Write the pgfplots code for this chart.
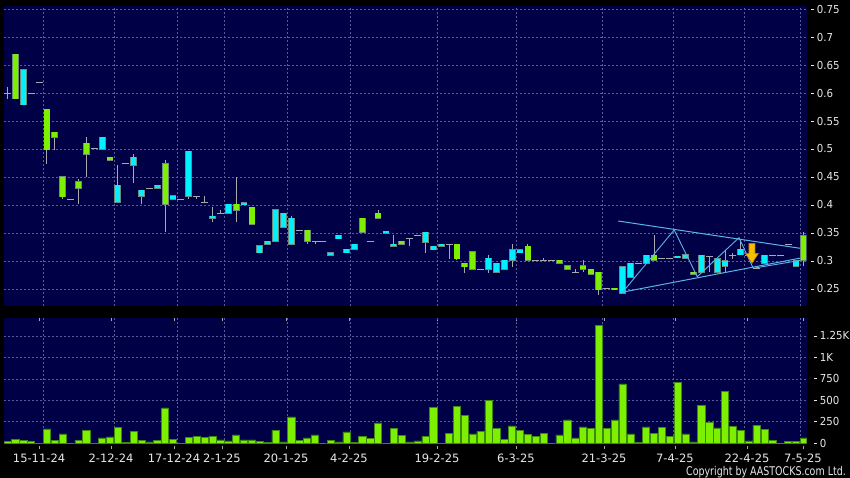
\documentclass[border=0pt]{standalone}
\usepackage{fontspec}
\setmainfont{DejaVu Sans}
\usepackage{pgfplots}
\pgfplotsset{compat=1.18}
\usepackage{pgfplotstable}

\definecolor{bgnavy}{HTML}{000046}
\definecolor{gridc}{HTML}{5A5A96}
\definecolor{upg}{HTML}{7CF000}
\definecolor{dnc}{HTML}{00F0FF}
\definecolor{edgec}{HTML}{6E8A7A}
\definecolor{wickc}{HTML}{A8A8B0}
\definecolor{trendc}{HTML}{5AB4E6}
\definecolor{voledge}{HTML}{3E8A10}
\definecolor{txtc}{HTML}{E8E8E8}
\definecolor{arrowc}{HTML}{F5C000}
\definecolor{arrowe}{HTML}{C07800}

\newcommand\yt[1]{\rule[0.33em]{3pt}{0.8pt}\hspace{3pt}\scalebox{0.93}[1]{#1}}

\pgfdeclareplotmark{sigarrow}{%
  \pgfpathmoveto{\pgfpoint{-3pt}{10pt}}%
  \pgfpathlineto{\pgfpoint{3pt}{10pt}}%
  \pgfpathlineto{\pgfpoint{3pt}{0pt}}%
  \pgfpathlineto{\pgfpoint{6.5pt}{0pt}}%
  \pgfpathlineto{\pgfpoint{0pt}{-10pt}}%
  \pgfpathlineto{\pgfpoint{-6.5pt}{0pt}}%
  \pgfpathlineto{\pgfpoint{-3pt}{0pt}}%
  \pgfpathclose
  \pgfusepathqfillstroke}

% body low / high of up (green) candles
\pgfplotstableread{
x lo hi
1 0.590 0.669
5 0.499 0.571
6 0.521 0.530
7 0.415 0.450
9 0.430 0.441
10 0.491 0.510
13 0.480 0.485
20 0.401 0.474
29 0.391 0.401
31 0.366 0.396
38 0.335 0.355
45 0.351 0.376
47 0.376 0.385
50 0.330 0.335
57 0.304 0.330
58 0.290 0.296
59 0.285 0.316
66 0.301 0.326
70 0.296 0.301
71 0.285 0.291
73 0.285 0.291
74 0.276 0.285
75 0.249 0.280
77 0.249 0.251
82 0.301 0.310
87 0.277 0.280
101 0.302 0.345
}\upc

% body low / high of cyan candles
\pgfplotstableread{
x lo hi
2 0.579 0.641
12 0.500 0.521
14 0.405 0.435
16 0.471 0.485
17 0.416 0.426
19 0.430 0.435
21 0.410 0.416
23 0.416 0.496
26 0.376 0.380
28 0.385 0.401
30 0.401 0.404
32 0.315 0.327
33 0.330 0.335
34 0.335 0.391
35 0.360 0.385
36 0.330 0.376
41 0.310 0.315
42 0.340 0.346
43 0.315 0.321
44 0.321 0.330
48 0.350 0.353
49 0.326 0.330
53 0.334 0.351
54 0.320 0.326
55 0.326 0.330
61 0.285 0.305
62 0.280 0.296
63 0.285 0.301
64 0.301 0.320
65 0.315 0.320
78 0.242 0.290
79 0.271 0.296
81 0.296 0.310
85 0.306 0.308
86 0.305 0.311
88 0.280 0.310
90 0.280 0.304
91 0.291 0.300
93 0.311 0.321
96 0.296 0.310
100 0.291 0.300
}\dnc

% open = close days
\pgfplotstableread{
x p
0 0.600
3 0.600
4 0.619
8 0.410
11 0.500
15 0.474
18 0.430
22 0.410
24 0.416
25 0.405
27 0.385
37 0.355
39 0.335
40 0.335
46 0.335
51 0.340
52 0.346
56 0.330
60 0.285
67 0.301
68 0.301
69 0.301
72 0.280
76 0.251
80 0.296
83 0.304
84 0.304
89 0.308
92 0.310
94 0.310
95 0.287
97 0.310
98 0.310
99 0.330
}\doji

% high / low where a wick shows
\pgfplotstableread{
x l h
0 0.590 0.610
5 0.474 0.571
6 0.499 0.530
7 0.410 0.450
9 0.401 0.446
10 0.450 0.522
14 0.405 0.471
16 0.440 0.491
17 0.401 0.426
20 0.351 0.480
23 0.410 0.496
24 0.410 0.416
25 0.405 0.416
26 0.370 0.396
27 0.385 0.391
29 0.370 0.450
36 0.330 0.380
38 0.330 0.355
39 0.330 0.335
47 0.376 0.391
49 0.326 0.346
51 0.326 0.340
53 0.315 0.351
56 0.304 0.330
57 0.302 0.330
58 0.279 0.296
61 0.279 0.311
64 0.290 0.330
66 0.301 0.330
68 0.301 0.305
72 0.280 0.285
73 0.280 0.301
75 0.240 0.280
82 0.301 0.346
89 0.280 0.308
91 0.280 0.320
92 0.303 0.315
93 0.311 0.340
101 0.291 0.352
}\wick

\pgfplotstableread{
x v
0 23
1 50
2 35
3 19
4 0
5 167
6 35
7 109
8 0
9 35
10 148
11 0
12 62
13 74
14 186
15 12
16 140
17 35
18 16
19 35
20 412
21 47
22 0
23 66
24 82
25 70
26 78
27 39
28 27
29 97
30 39
31 39
32 23
33 8
34 155
35 16
36 307
37 35
38 62
39 97
40 0
41 31
42 16
43 132
44 12
45 82
46 54
47 237
48 0
49 171
50 93
51 16
52 27
53 78
54 415
55 0
56 116
57 427
58 326
59 109
60 140
61 497
62 175
63 43
64 202
65 148
66 105
67 78
68 113
69 0
70 97
71 272
72 62
73 190
74 175
75 1375
76 175
77 272
78 691
79 109
80 12
81 190
82 116
83 186
84 78
85 707
86 109
87 16
88 439
89 241
90 179
91 606
92 198
93 148
94 27
95 210
96 163
97 31
98 0
99 23
100 23
101 62
}\vol

\pgfplotsset{
  panel/.style={
    scale only axis, width=802.7pt,
    xmin=-0.444, xmax=101.36,
    axis background/.style={fill=bgnavy},
    axis line style={draw=none},
    major grid style={gridc, dash pattern=on 2pt off 2pt, line width=0.7pt},
    ytick style={draw=none},
    yticklabel pos=right,
    yticklabel style={anchor=west, inner sep=0pt, xshift=4pt, text=txtc,
      font=\fontsize{11}{13}\selectfont},
  },
  body/.style={only marks, mark=*, mark size=0pt, mark options={draw=none, fill=none},
    error bars/.cd, y dir=both, y explicit, error mark=none},
}

\begin{document}
\begin{tikzpicture}[x=1pt,y=1pt]
\fill[black] (0,0) rectangle (850,478);
\useasboundingbox (0,0) rectangle (850,478);

\begin{axis}[panel,
  at={(4pt,172pt)}, anchor=south west, height=300pt,
  ymin=0.2196, ymax=0.7554,
  xtick={4.5,13.5,21.5,27.5,35.5,43.5,54.5,64.5,75.5,84.5,93.5,100.5},
  xticklabel={}, xtick style={draw=none},
  xmajorgrids, ymajorgrids,
  ytick={0.25,0.30,0.35,0.40,0.45,0.50,0.55,0.60,0.65,0.70,0.75},
  yticklabels={\yt{0.25},\yt{0.3},\yt{0.35},\yt{0.4},\yt{0.45},\yt{0.5},\yt{0.55},\yt{0.6},\yt{0.65},\yt{0.7},\yt{0.75}},
]
\addplot[body, error bar style={draw=wickc, line width=1pt}]
  table[x=x, y expr={(\thisrow{l}+\thisrow{h})/2}, y error expr={(\thisrow{h}-\thisrow{l})/2}] {\wick};
\addplot[body, error bar style={draw=edgec, line width=6.8pt}]
  table[x=x, y expr={(\thisrow{lo}+\thisrow{hi})/2}, y error expr={(\thisrow{hi}-\thisrow{lo})/2+0.0012}] {\upc};
\addplot[body, error bar style={draw=upg, line width=5.2pt}]
  table[x=x, y expr={(\thisrow{lo}+\thisrow{hi})/2}, y error expr={(\thisrow{hi}-\thisrow{lo})/2}] {\upc};
\addplot[body, error bar style={draw=edgec, line width=6.8pt}]
  table[x=x, y expr={(\thisrow{lo}+\thisrow{hi})/2}, y error expr={(\thisrow{hi}-\thisrow{lo})/2+0.0012}] {\dnc};
\addplot[body, error bar style={draw=dnc, line width=5.2pt}]
  table[x=x, y expr={(\thisrow{lo}+\thisrow{hi})/2}, y error expr={(\thisrow{hi}-\thisrow{lo})/2}] {\dnc};
\addplot[only marks, mark=-, mark size=3.5pt, mark options={draw=wickc, line width=1pt}]
  table[x=x, y=p] {\doji};
% triangle and swing lines
\addplot[trendc, line width=1pt] coordinates {(77.46,0.3714) (100.5,0.3227)};
\addplot[trendc, line width=1pt] coordinates {(77.9,0.2441) (100.5,0.3050)};
\addplot[trendc, line width=0.9pt] coordinates {(77.9,0.2423) (84.55,0.3554) (87.48,0.2720) (92.77,0.3416) (94.58,0.2870) (100.5,0.3010)};
\addplot[only marks, mark=sigarrow, mark options={fill=arrowc, draw=arrowe, line width=0.6pt}]
  coordinates {(94.42,0.3137)};
\end{axis}

\begin{axis}[panel,
  at={(4pt,34pt)}, anchor=south west, height=125.7pt,
  ymin=-8, ymax=1456,
  xtick={4.0,13.13,21.12,27.2,35.32,43.31,54.47,64.49,75.65,84.65,93.79,100.89},
  xticklabels={15-11-24,2-12-24,17-12-24,2-1-25,20-1-25,4-2-25,19-2-25,6-3-25,21-3-25,7-4-25,22-4-25,7-5-25},
  tick align=outside, major tick length=3pt,
  xtick style={draw=wickc, line width=0.8pt, yshift=-2.5pt},
  xticklabel style={text=txtc, inner sep=0pt, yshift=-7pt, font=\fontsize{11.5}{13}\selectfont},
  extra x ticks={4.5,13.5,21.5,27.5,35.5,43.5,54.5,64.5,75.5,84.5,93.5,100.5},
  extra x tick labels={},
  extra x tick style={grid=major, major tick length=0pt, xtick style={draw=none}},
  ymajorgrids,
  ytick={0,250,500,750,1000,1250},
  yticklabels={\yt{0},\yt{250},\yt{500},\yt{750},\yt{1K},\yt{1.25K}},
]
\addplot[ybar, bar width=7.2pt, fill=upg, draw=voledge, line width=0.6pt] table[x=x, y=v] {\vol};
\end{axis}

\node[anchor=base east, inner sep=0pt, text=txtc] at (846,2)
  {\fontsize{12}{14}\selectfont\scalebox{0.79}[1]{Copyright by AASTOCKS.com Ltd.}};
\end{tikzpicture}
\end{document}
